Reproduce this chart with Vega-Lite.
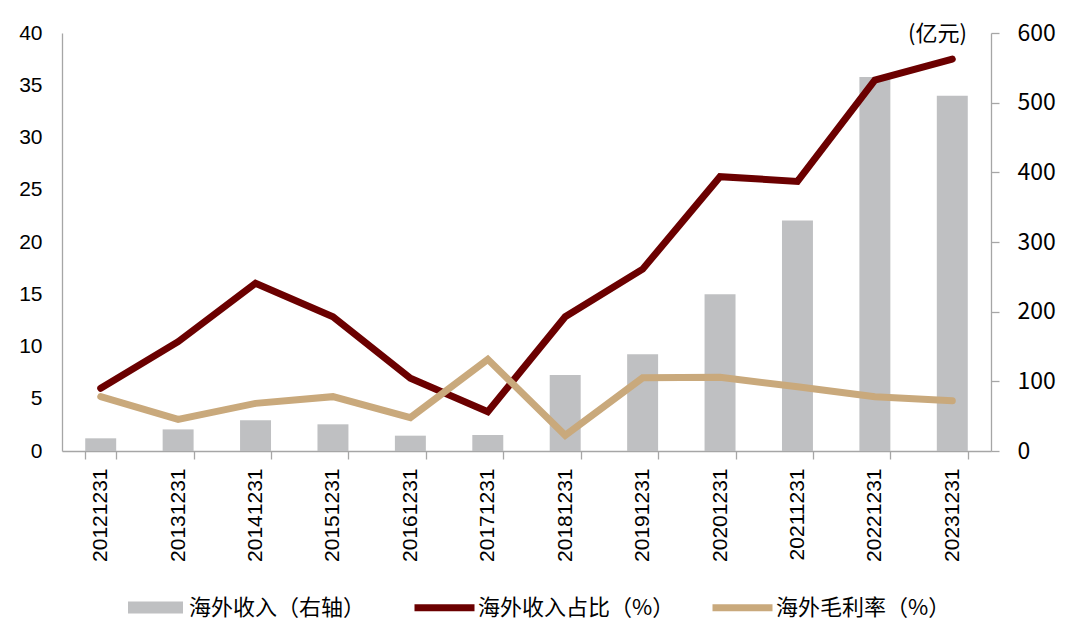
{
  "$schema": "https://vega.github.io/schema/vega-lite/v6.json",
  "width": 929,
  "height": 418,
  "autosize": {"type": "none"},
  "padding": {"left": 62, "top": 33, "right": 89, "bottom": 177},
  "background": "white",
  "config": {
    "view": {"stroke": null},
    "font": "Liberation Sans, Noto Sans CJK SC",
    "axis": {"grid": false, "domainColor": "#A6A6A6", "tickColor": "#A6A6A6", "labelColor": "#000000", "domainWidth": 1.3, "tickWidth": 1.3},
    "legend": {"padding": 0}
  },
  "data": {
    "values": [
      {"date": "20121231", "revenue": 18.2, "海外收入占比（%）": 6.0, "海外毛利率（%）": 5.2},
      {"date": "20131231", "revenue": 31.0, "海外收入占比（%）": 10.46, "海外毛利率（%）": 3.03},
      {"date": "20141231", "revenue": 44.0, "海外收入占比（%）": 16.05, "海外毛利率（%）": 4.56},
      {"date": "20151231", "revenue": 38.3, "海外收入占比（%）": 12.85, "海外毛利率（%）": 5.2},
      {"date": "20161231", "revenue": 22.0, "海外收入占比（%）": 6.96, "海外毛利率（%）": 3.2},
      {"date": "20171231", "revenue": 23.0, "海外收入占比（%）": 3.76, "海外毛利率（%）": 8.77},
      {"date": "20181231", "revenue": 109.0, "海外收入占比（%）": 12.85, "海外毛利率（%）": 1.5},
      {"date": "20191231", "revenue": 138.8, "海外收入占比（%）": 17.4, "海外毛利率（%）": 7.0},
      {"date": "20201231", "revenue": 225.0, "海外收入占比（%）": 26.25, "海外毛利率（%）": 7.05},
      {"date": "20211231", "revenue": 331.0, "海外收入占比（%）": 25.8, "海外毛利率（%）": 6.15},
      {"date": "20221231", "revenue": 537.0, "海外收入占比（%）": 35.5, "海外毛利率（%）": 5.2},
      {"date": "20231231", "revenue": 510.0, "海外收入占比（%）": 37.5, "海外毛利率（%）": 4.8}
    ]
  },
  "encoding": {
    "x": {
      "field": "date",
      "type": "nominal",
      "sort": null,
      "scale": {"paddingInner": 0.6, "paddingOuter": 0.3},
      "axis": {
        "title": null,
        "labelAngle": -90,
        "labelFontSize": 21,
        "labelFont": "Liberation Sans",
        "tickBand": "extent",
        "tickSize": 8,
        "labelPadding": 9
      }
    }
  },
  "layer": [
    {
      "mark": {"type": "bar"},
      "encoding": {
        "y": {
          "field": "revenue",
          "type": "quantitative",
          "scale": {"domain": [0, 600], "nice": false},
          "axis": {
            "orient": "right",
            "values": [0, 100, 200, 300, 400, 500, 600],
            "tickSize": 8,
            "labelPadding": 18,
            "labelFontSize": 23,
            "labelFont": "Noto Sans CJK SC",
            "title": "(亿元)",
            "titleAngle": 0,
            "titleX": -54,
            "titleY": 0,
            "titleAlign": "center",
            "titleBaseline": "middle",
            "titleFont": "Noto Sans CJK SC",
            "titleFontSize": 22,
            "titleFontWeight": "normal",
            "titleColor": "#000000"
          }
        },
        "fill": {
          "datum": "海外收入（右轴）",
          "type": "nominal",
          "scale": {"domain": ["海外收入（右轴）"], "range": ["#BFC0C2"]},
          "legend": {
            "title": null,
            "orient": "none",
            "legendX": 66,
            "legendY": 547,
            "symbolType": "M-1,-0.22L1,-0.22L1,0.22L-1,0.22Z",
            "symbolSize": 3025,
            "symbolStrokeWidth": 0,
            "labelFont": "Noto Sans CJK SC",
            "labelFontSize": 22,
            "labelColor": "#000000",
            "labelOffset": 6,
            "labelLimit": 300
          }
        }
      }
    },
    {
      "transform": [{"fold": ["海外收入占比（%）", "海外毛利率（%）"], "as": ["series", "value"]}],
      "mark": {"type": "line", "strokeWidth": 7, "strokeCap": "round", "strokeJoin": "miter"},
      "encoding": {
        "y": {
          "field": "value",
          "type": "quantitative",
          "scale": {"domain": [0, 40], "nice": false},
          "axis": {
            "orient": "left",
            "values": [0, 5, 10, 15, 20, 25, 30, 35, 40],
            "ticks": false,
            "tickSize": 0,
            "labelPadding": 20,
            "labelFontSize": 21,
            "labelFont": "Liberation Sans",
            "title": null
          }
        },
        "stroke": {
          "field": "series",
          "type": "nominal",
          "scale": {"domain": ["海外收入占比（%）", "海外毛利率（%）"], "range": ["#6B0000", "#C9A97C"]},
          "legend": {
            "title": null,
            "orient": "none",
            "direction": "horizontal",
            "legendX": 349,
            "legendY": 541,
            "symbolType": "stroke",
            "symbolSize": 3600,
            "symbolStrokeWidth": 7,
            "labelFont": "Noto Sans CJK SC",
            "labelFontSize": 22,
            "labelColor": "#000000",
            "labelOffset": 0,
            "columnPadding": 23,
            "labelLimit": 300
          }
        }
      }
    }
  ],
  "resolve": {"scale": {"y": "independent"}}
}
